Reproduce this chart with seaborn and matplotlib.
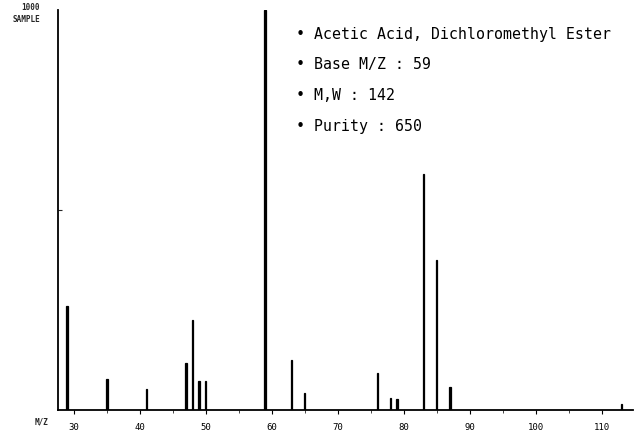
import matplotlib
matplotlib.use('Agg')
import matplotlib.pyplot as plt
import seaborn as sns
import pandas as pd
from matplotlib.ticker import MultipleLocator

# Spectrum peaks (m/z, relative intensity of 1000)
mz = [29, 35, 41, 47, 48, 49, 50, 59, 63, 65, 76, 78, 79, 83, 85, 87, 113]
intensity = [260, 78, 52, 118, 225, 72, 72, 1000, 125, 42, 92, 30, 28, 590, 375, 58, 15]

x_ticks = [30, 40, 50, 60, 70, 80, 90, 100, 110]
info_lines = [
    '• Acetic Acid, Dichloromethyl Ester',
    '• Base M/Z : 59',
    '• M,W : 142',
    '• Purity : 650',
]

sns.set_style('white')
plt.rcParams['font.family'] = ['DejaVu Sans Mono', 'DejaVu Sans']

df = pd.DataFrame({'mz': mz, 'intensity': intensity})

fig = plt.figure(figsize=(6.37, 4.33), dpi=100)
ax = fig.add_axes([0.091, 0.053, 0.903, 0.924])

sns.barplot(data=df, x='mz', y='intensity', native_scale=True, width=0.22,
            color='black', edgecolor='black', linewidth=0.9, saturation=1,
            ax=ax)

ax.set_xlim(27.6, 114.8)
ax.set_ylim(0, 1000)
ax.set_xlabel('')
ax.set_ylabel('')

sns.despine(ax=ax, top=True, right=True)
for side in ['left', 'bottom']:
    ax.spines[side].set_color('black')
    ax.spines[side].set_linewidth(1.3)

ax.set_xticks(x_ticks)
ax.set_xticklabels([str(t) for t in x_ticks], fontsize=6.5)
ax.xaxis.set_minor_locator(MultipleLocator(5))
ax.tick_params(axis='x', which='major', direction='out', length=3, width=0.8,
               pad=6, bottom=True, colors='black')
ax.tick_params(axis='x', which='minor', direction='out', length=2, width=0.6,
               bottom=True)
ax.set_yticks([500])
ax.set_yticklabels([''])
ax.tick_params(axis='y', direction='in', length=3, width=0.8, left=True)

# Labels around the axes
fig.text(0.063, 0.982, '1000', ha='right', va='center', fontsize=5.5,
         fontweight='bold')
fig.text(0.063, 0.955, 'SAMPLE', ha='right', va='center', fontsize=5.5,
         fontweight='bold')
fig.text(0.065, 0.026, 'M/Z', ha='center', va='center', fontsize=5.5,
         fontweight='bold')

y_pos = [0.920, 0.850, 0.780, 0.707]
for line, y in zip(info_lines, y_pos):
    fig.text(0.464, y, line, ha='left', va='center', fontsize=10.7,
             color='black')

fig.savefig('out.png', dpi=100)
